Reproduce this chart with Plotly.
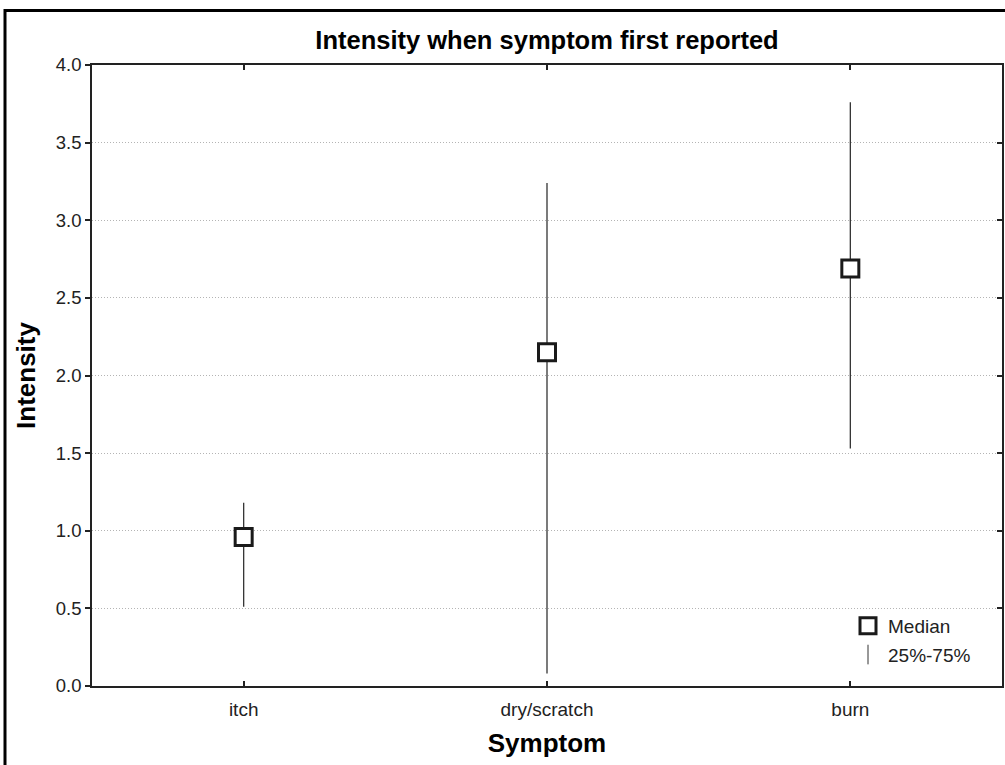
import plotly.graph_objects as go

symptoms = ["itch", "dry/scratch", "burn"]
median = [0.96, 2.15, 2.69]
q25 = [0.51, 0.08, 1.53]
q75 = [1.18, 3.24, 3.76]

y_ticks = [0.0, 0.5, 1.0, 1.5, 2.0, 2.5, 3.0, 3.5, 4.0]
y_tick_text = ["%.1f" % v for v in y_ticks]

FONT = "Liberation Sans, Arial, sans-serif"
W, H = 1005, 765
L, R, T, B = 92, 3, 65, 79
pw = W - L - R
ph = H - T - B

fig = go.Figure()

# whiskers (25%-75%) via error bars on an invisible trace
fig.add_trace(go.Scatter(
    x=symptoms, y=median, mode="markers",
    marker=dict(size=1, color="rgba(0,0,0,0)"),
    error_y=dict(type="data", symmetric=False,
                 array=[q75[i] - median[i] for i in range(3)],
                 arrayminus=[median[i] - q25[i] for i in range(3)],
                 color="#333333", thickness=1.3, width=0),
    showlegend=False, hoverinfo="skip",
))

# medians
fig.add_trace(go.Scatter(
    x=symptoms, y=median, mode="markers", name="Median",
    marker=dict(symbol="square", size=17, color="white",
                line=dict(color="#1a1a1a", width=3)),
    legendgroup="a",
))

# legend entry for whiskers
fig.add_trace(go.Scatter(
    x=[None], y=[None], mode="markers", name="25%-75%",
    marker=dict(symbol="line-ns-open", size=14, color="#333333",
                line=dict(color="#333333", width=1)),
    legendgroup="b",
))

# dummy trace to activate yaxis2
fig.add_trace(go.Scatter(x=[None], y=[None], yaxis="y2", showlegend=False, hoverinfo="skip"))

fig.update_layout(
    width=W, height=H,
    margin=dict(l=L, r=R, t=T, b=B, autoexpand=False),
    paper_bgcolor="white", plot_bgcolor="white",
    font=dict(family=FONT, size=18, color="#222222"),
    title=dict(text="<b>Intensity when symptom first reported</b>",
               x=(L + pw / 2) / W, xanchor="center", y=1 - 40 / H, yanchor="middle",
               font=dict(family=FONT, size=25.5, color="#000000")),
    xaxis=dict(
        type="category", categoryorder="array", categoryarray=symptoms,
        range=[-0.5, 2.5], automargin=False,
        showline=True, linecolor="#222222", linewidth=1.5, mirror="ticks",
        ticks="inside", ticklen=5, tickcolor="#222222", tickwidth=1.5,
        showgrid=False, zeroline=False,
        ticklabelstandoff=5,
        tickfont=dict(family=FONT, size=19, color="#222222"),
        title=dict(text="<b>Symptom</b>", standoff=15,
                   font=dict(family=FONT, size=26, color="#000000")),
    ),
    yaxis=dict(
        range=[0, 4], tickvals=y_ticks, ticktext=y_tick_text, automargin=False,
        showline=True, linecolor="#222222", linewidth=1.5,
        ticks="outside", ticklen=5, tickcolor="#222222", tickwidth=1.5,
        showgrid=True, gridcolor="#b4b4b4", griddash="1px,2px", gridwidth=1,
        zeroline=False,
        tickfont=dict(family=FONT, size=18.5, color="#222222"),
        title=dict(text="<b>Intensity</b>", standoff=13,
                   font=dict(family=FONT, size=26, color="#000000")),
    ),
    yaxis2=dict(
        range=[0, 4], tickvals=y_ticks, overlaying="y", side="right",
        automargin=False,
        showline=True, linecolor="#222222", linewidth=1.5,
        ticks="inside", ticklen=5, tickcolor="#222222", tickwidth=1.5,
        showticklabels=False, showgrid=False, zeroline=False,
    ),
    legend=dict(
        x=(848 - L) / pw, y=(686 - 607) / ph,
        xanchor="left", yanchor="top",
        bgcolor="rgba(0,0,0,0)", borderwidth=0,
        font=dict(family=FONT, size=19, color="#222222"),
        traceorder="grouped", tracegroupgap=1,
    ),
    showlegend=True,
)

# outer frame (left and top edges visible)
fig.add_shape(type="rect", xref="paper", yref="paper",
              x0=(5 - L) / pw, x1=(W + 20 - L) / pw,
              y0=(H - B - (H + 20)) / ph, y1=(H - B - 10.5) / ph,
              line=dict(color="black", width=3), layer="above")

fig.write_html(
    "out.html",
    config={"displayModeBar": False},
    post_script="document.body.style.margin='0';document.body.style.overflow='hidden';",
)
